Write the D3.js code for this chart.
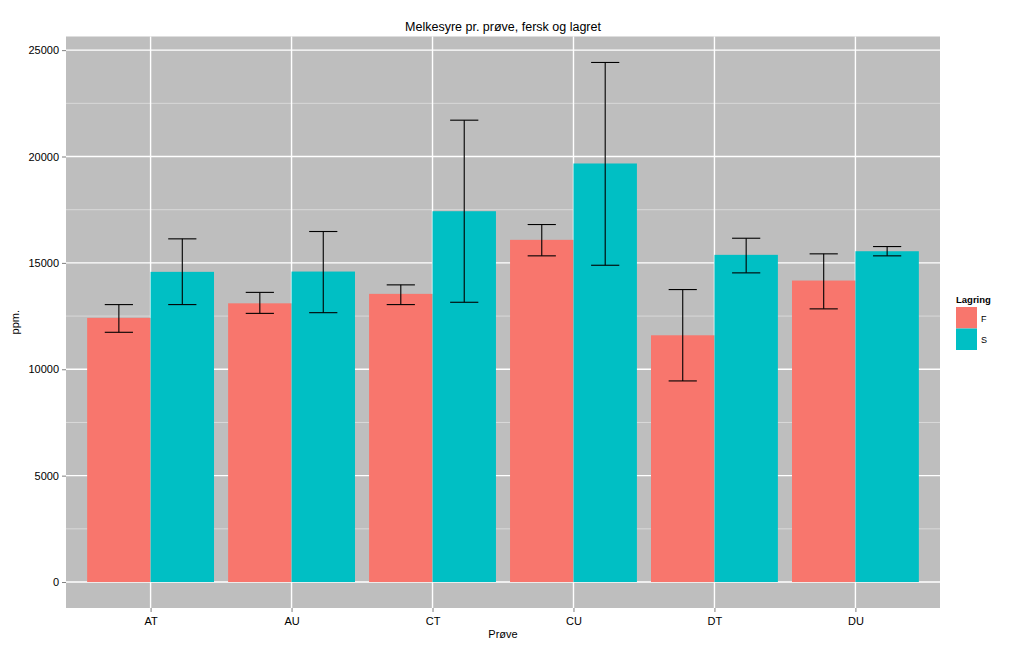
<!DOCTYPE html>
<html>
<head>
<meta charset="utf-8">
<script src="https://cdn.jsdelivr.net/npm/d3@7"></script>
<style>
  body { margin: 0; background: #fff; }
  svg { font-family: "Liberation Sans", Arial, sans-serif; }
</style>
</head>
<body>
<svg id="chart" width="1024" height="652"></svg>
<script>
var categories = ['AT', 'AU', 'CT', 'CU', 'DT', 'DU'];
var groups = ['F', 'S'];
var valuesF = [12415, 13100, 13544, 16083, 11597, 14170];
var valuesS = [14579, 14593, 17429, 19672, 15378, 15548];
var lowerF = [11738, 12627, 13040, 15331, 9452, 12839];
var upperF = [13040, 13614, 13967, 16803, 13746, 15425];
var lowerS = [13040, 12660, 13149, 14889, 14531, 15331];
var upperS = [16130, 16475, 21708, 24420, 16159, 15768];
var yTicks = [0, 5000, 10000, 15000, 20000, 25000];
var colors = { F: '#F8766D', S: '#00BFC4' };

var rows = [];
categories.forEach(function(c, i) {
  rows.push({ cat: c, grp: 'F', value: valuesF[i], lo: lowerF[i], hi: upperF[i] });
  rows.push({ cat: c, grp: 'S', value: valuesS[i], lo: lowerS[i], hi: upperS[i] });
});

var svg = d3.select('#chart');
var panel = { left: 66, top: 36.5, right: 940, bottom: 608 };

// ggplot style expansion: 5% continuous, 0.6 units discrete
var yMax = d3.max(rows, function(d) { return d.hi; });
var pad = yMax * 0.05;
var y = d3.scaleLinear()
  .domain([-pad, yMax + pad])
  .range([panel.bottom, panel.top]);

var unit = (panel.right - panel.left) / (categories.length - 1 + 1.2);
var x = d3.scalePoint()
  .domain(categories)
  .range([panel.left + 0.6 * unit, panel.right - 0.6 * unit]);

var dodge = d3.scaleBand()
  .domain(groups)
  .range([-0.45 * unit, 0.45 * unit]);

// panel background
svg.append('rect')
  .attr('x', panel.left)
  .attr('y', panel.top)
  .attr('width', panel.right - panel.left)
  .attr('height', panel.bottom - panel.top)
  .style('fill', '#BEBEBE');

// minor grid
var minor = d3.range(-2500, yMax + pad, 5000).filter(function(v) {
  return y(v) <= panel.bottom && y(v) >= panel.top;
});
svg.append('g').selectAll('line')
  .data(minor)
  .enter().append('line')
    .attr('x1', panel.left)
    .attr('x2', panel.right)
    .attr('y1', function(d) { return y(d); })
    .attr('y2', function(d) { return y(d); })
    .style('stroke', '#E0E0E0')
    .style('stroke-width', 0.8);

// major grid
svg.append('g').selectAll('line')
  .data(yTicks)
  .enter().append('line')
    .attr('x1', panel.left)
    .attr('x2', panel.right)
    .attr('y1', function(d) { return y(d); })
    .attr('y2', function(d) { return y(d); })
    .style('stroke', '#fff')
    .style('stroke-width', 1.4);

svg.append('g').selectAll('line')
  .data(categories)
  .enter().append('line')
    .attr('x1', function(d) { return x(d); })
    .attr('x2', function(d) { return x(d); })
    .attr('y1', panel.top)
    .attr('y2', panel.bottom)
    .style('stroke', '#fff')
    .style('stroke-width', 1.4);

// bars
svg.append('g').selectAll('rect')
  .data(rows)
  .enter().append('rect')
    .attr('x', function(d) { return x(d.cat) + dodge(d.grp); })
    .attr('width', dodge.bandwidth())
    .attr('y', function(d) { return y(d.value); })
    .attr('height', function(d) { return y(0) - y(d.value); })
    .style('fill', function(d) { return colors[d.grp]; });

// error bars
var whisker = 0.1 * unit;
var eb = svg.append('g').selectAll('g')
  .data(rows)
  .enter().append('g')
    .attr('transform', function(d) {
      return 'translate(' + (x(d.cat) + dodge(d.grp) + dodge.bandwidth() / 2) + ',0)';
    })
    .style('stroke', '#000')
    .style('stroke-width', 1.1);

eb.append('line')
  .attr('x1', 0).attr('x2', 0)
  .attr('y1', function(d) { return y(d.hi); })
  .attr('y2', function(d) { return y(d.lo); });
eb.append('line')
  .attr('x1', -whisker).attr('x2', whisker)
  .attr('y1', function(d) { return y(d.hi); })
  .attr('y2', function(d) { return y(d.hi); });
eb.append('line')
  .attr('x1', -whisker).attr('x2', whisker)
  .attr('y1', function(d) { return y(d.lo); })
  .attr('y2', function(d) { return y(d.lo); });

// axes
var yAxis = svg.append('g')
  .attr('transform', 'translate(' + panel.left + ',0)')
  .call(d3.axisLeft(y).tickValues(yTicks).tickSize(4).tickPadding(3).tickFormat(d3.format('d')));
var xAxis = svg.append('g')
  .attr('transform', 'translate(0,' + panel.bottom + ')')
  .call(d3.axisBottom(x).tickSize(4).tickPadding(5));

[yAxis, xAxis].forEach(function(a) {
  a.select('.domain').remove();
  a.selectAll('.tick line').style('stroke', '#7F7F7F');
  a.selectAll('.tick text')
    .style('font-size', '11px')
    .style('fill', '#000');
});

// titles
svg.append('text')
  .attr('x', (panel.left + panel.right) / 2)
  .attr('y', 31)
  .attr('text-anchor', 'middle')
  .style('font-size', '12.5px')
  .text('Melkesyre pr. prøve, fersk og lagret');

svg.append('text')
  .attr('x', (panel.left + panel.right) / 2)
  .attr('y', 638)
  .attr('text-anchor', 'middle')
  .style('font-size', '11px')
  .text('Prøve');

svg.append('text')
  .attr('transform', 'translate(19,' + ((panel.top + panel.bottom) / 2) + ') rotate(-90)')
  .attr('text-anchor', 'middle')
  .style('font-size', '11px')
  .text('ppm.');

// legend
var legend = svg.append('g').attr('transform', 'translate(956,0)');
legend.append('text')
  .attr('x', 0)
  .attr('y', 303)
  .style('font-size', '9.5px')
  .style('font-weight', 'bold')
  .text('Lagring');

var keys = legend.selectAll('g.key')
  .data(groups)
  .enter().append('g')
    .attr('class', 'key')
    .attr('transform', function(d, i) { return 'translate(0,' + (307 + i * 21.5) + ')'; });
keys.append('rect')
  .attr('width', 21)
  .attr('height', 21.5)
  .style('fill', function(d) { return colors[d]; });
keys.append('text')
  .attr('x', 25)
  .attr('y', 14.5)
  .style('font-size', '9px')
  .text(function(d) { return d; });
</script>
</body>
</html>
